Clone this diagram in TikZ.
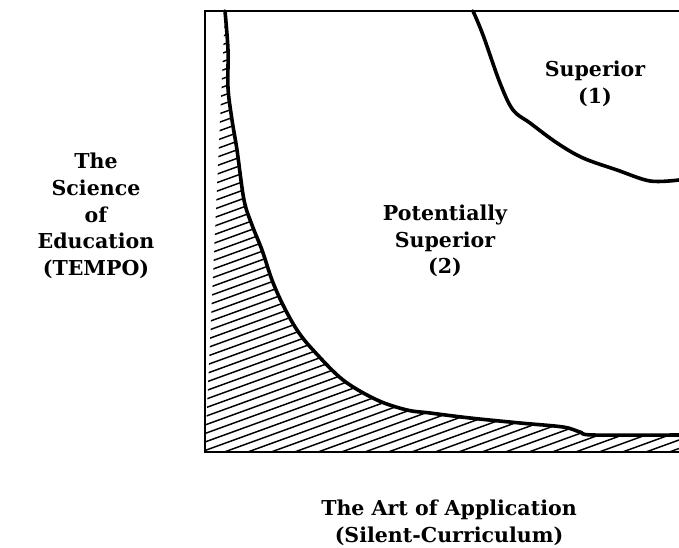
\documentclass[tikz,border=0pt]{standalone}
\usepackage{fontspec}
\setmainfont{DejaVu Serif}
\begin{document}
\begin{tikzpicture}[x=0.75pt,y=-0.75pt,
  lbl/.style={font=\fontsize{15.4}{20}\selectfont\bfseries, align=center, inner sep=0pt},
  curve/.style={line width=2.7pt, line join=round, line cap=round},
  frame/.style={line width=1.7pt},
  hatch/.style={line width=1.1pt}]
\useasboundingbox (0,0) rectangle (679,548);
% hatched region
\begin{scope}
\clip (205,11) -- (225,11)
  plot[smooth, tension=0.55] coordinates {(225,11) (228,50) (228,88) (232,120) (237,150) (244,200) (252,225) (262,250) (272,280) (283,305) (297,330) (313,350) (343,380) (377,400) (407,410) (430,413) (470,418) (520,423) (563,427) (580,432) (593,435) (679,435)}
  -- (679,452) -- (205,452) -- cycle;
\foreach \c in {0,8.5,...,690} {
  \draw[hatch] (205,\c) -- (679,\c-172);
}
\end{scope}
% frame
\draw[frame] (679,11) -- (205,11) -- (205,452) -- (679,452);
% boundary of region 2
\draw[curve] plot[smooth, tension=0.55] coordinates {(225,11) (228,50) (228,88) (232,120) (237,150) (244,200) (252,225) (262,250) (272,280) (283,305) (297,330) (313,350) (343,380) (377,400) (407,410) (430,413) (470,418) (520,423) (563,427) (580,432) (593,435) (679,435)};
% boundary of region 1
\draw[curve] plot[smooth, tension=0.55] coordinates {(473,11) (483,35) (500,83) (513,110) (530,123) (557,143) (583,158) (617,170) (650,181) (679,180)};
% labels
\node[lbl] (sup) at (595,84) {Superior\\(1)};
\node[lbl] (pot) at (445,241) {Potentially\\Superior\\(2)};
\node[lbl] (sci) at (96,216) {The\\Science\\of\\Education\\(TEMPO)};
\node[lbl] (art) at (449,523) {The Art of Application\\(Silent-Curriculum)};
\end{tikzpicture}
\end{document}
